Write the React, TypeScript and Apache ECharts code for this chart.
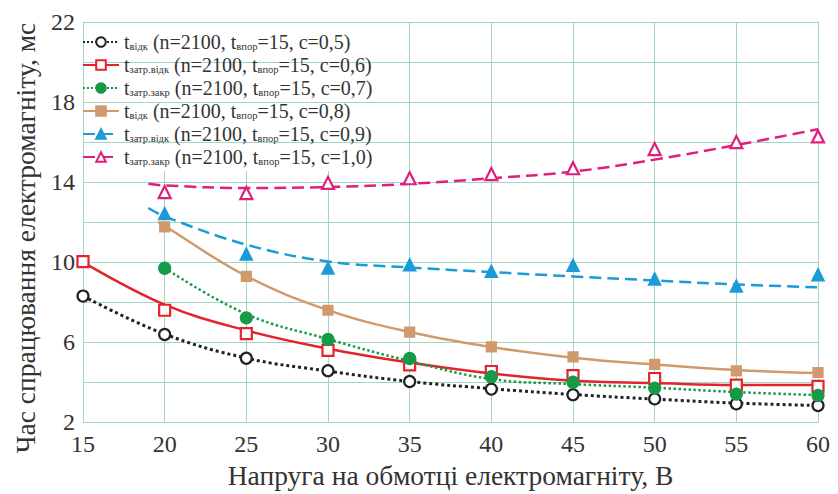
import React, { useEffect, useRef } from "react";
import * as echarts from "echarts";

// X values (voltage, V)
const xVals = [15, 20, 25, 30, 35, 40, 45, 50, 55, 60];
const xFrom20 = [20, 25, 30, 35, 40, 45, 50, 55, 60];

// Measured points
const blackPts = [8.3, 6.38, 5.19, 4.57, 4.03, 3.65, 3.37, 3.16, 2.91, 2.83];
const redPts = [10.02, 7.59, 6.42, 5.59, 4.86, 4.53, 4.32, 4.18, 3.85, 3.79];
const greenPts = [9.69, 7.21, 6.13, 5.18, 4.27, 3.99, 3.7, 3.4, 3.33];
const tanPts = [11.76, 9.28, 7.59, 6.5, 5.76, 5.26, 4.89, 4.56, 4.48];
const bluePts = [12.42, 10.39, 9.69, 9.86, 9.53, 9.83, 9.15, 8.79, 9.36];
const pinkPts = [13.5, 13.45, 13.96, 14.19, 14.4, 14.69, 15.65, 16.0, 16.28];

// Fitted (trend) curves
const blackFitX = [15, 20, 25, 30, 35, 40, 45, 50, 55, 60];
const blackFit = [8.3, 6.4, 5.2, 4.55, 4.03, 3.67, 3.38, 3.15, 2.95, 2.83];
const redFitX = [15, 20, 25, 30, 35, 40, 45, 50, 55, 60];
const redFit = [10.0, 7.87, 6.58, 5.67, 4.98, 4.43, 4.07, 3.95, 3.85, 3.85];
const greenFitX = [20, 25, 30, 35, 40, 45, 50, 55, 60];
const greenFit = [9.7, 7.4, 6.15, 5.05, 4.15, 3.9, 3.72, 3.5, 3.35];
const tanFitX = [19.6, 20, 25, 30, 35, 40, 45, 50, 55, 60];
const tanFit = [12.0, 11.8, 9.3, 7.6, 6.5, 5.75, 5.22, 4.88, 4.6, 4.45];
const blueFitX = [19, 20, 25, 30, 35, 40, 45, 50, 55, 60];
const blueFit = [12.7, 12.28, 10.87, 10.03, 9.73, 9.5, 9.28, 9.08, 8.88, 8.74];
const pinkFitX = [19, 20, 25, 30, 35, 40, 45, 50, 55, 60];
const pinkFit = [13.91, 13.83, 13.7, 13.75, 13.91, 14.19, 14.52, 15.12, 15.85, 16.64];

// Legend texts
const subA = ["відк", "затр.відк", "затр.закр", "відк", "затр.відк", "затр.закр"];
const cVals = ["0,5", "0,6", "0,7", "0,8", "0,9", "1,0"];

const yTickLabels = [2, 6, 10, 14, 18, 22];

const FONT = "Liberation Serif";
const GRID = "#a3d6c2";
const TXT = "#333333";

const zip = (xs: number[], ys: number[]) => ys.map((y, i) => [xs[i], y]);

export default function App() {
  const ref = useRef<HTMLDivElement>(null);
  useEffect(() => {
    document.body.style.margin = "0";
    if (!ref.current) return;
    const chart = echarts.init(ref.current, null, { renderer: "svg" });

    const names = subA.map((s, i) => `t_${s} (n=2100, t_впор=15, c=${cVals[i]})`);
    const richNames: Record<string, string> = {};
    names.forEach((n, i) => {
      richNames[n] = `{t|t}{s|${subA[i]}}{t| (n=2100, t}{s|впор}{t|=15, c=${cVals[i]})}`;
    });

    const defs = [
      { color: "#222222", type: "dotted", width: 3, symbol: "circle", fill: "#ffffff", fitX: blackFitX, fit: blackFit, px: xVals, pts: blackPts, size: 11 },
      { color: "#e3242b", type: "solid", width: 2.5, symbol: "rect", fill: "#ffffff", fitX: redFitX, fit: redFit, px: xVals, pts: redPts, size: 11 },
      { color: "#169a47", type: "dotted", width: 2.5, symbol: "circle", fill: "#169a47", fitX: greenFitX, fit: greenFit, px: xFrom20, pts: greenPts, size: 11 },
      { color: "#d09a6c", type: "solid", width: 2.5, symbol: "rect", fill: "#d09a6c", fitX: tanFitX, fit: tanFit, px: xFrom20, pts: tanPts, size: 9 },
      { color: "#1b9bd7", type: [12, 6], width: 2.5, symbol: "triangle", fill: "#1b9bd7", fitX: blueFitX, fit: blueFit, px: xFrom20, pts: bluePts, size: 11 },
      { color: "#e01e7e", type: [12, 6], width: 2.5, symbol: "triangle", fill: "#ffffff", fitX: pinkFitX, fit: pinkFit, px: xFrom20, pts: pinkPts, size: 12 },
    ];

    const series: any[] = [];
    defs.forEach((d, i) => {
      series.push({
        name: names[i],
        type: "line",
        smooth: 0.4,
        showSymbol: false,
        symbol: d.symbol,
        symbolSize: d.size,
        z: 3,
        data: zip(d.fitX, d.fit),
        lineStyle: { color: d.color, width: d.width, type: d.type },
        itemStyle: { color: d.fill, borderColor: d.color, borderWidth: 2.2 },
      });
      series.push({
        name: names[i] + " ",
        type: "scatter",
        symbol: d.symbol,
        symbolSize: d.size,
        z: 4,
        data: zip(d.px, d.pts),
        itemStyle: { color: d.fill, borderColor: d.color, borderWidth: 2.2, opacity: 1 },
      });
    });

    chart.setOption({
      animation: false,
      backgroundColor: "#ffffff",
      grid: { left: 83, right: 20, top: 22, bottom: 69, containLabel: false },
      graphic: [
        {
          type: "rect",
          z: 1,
          silent: true,
          shape: { x: 84, y: 23, width: 316, height: 148 },
          style: { fill: "#ffffff" },
        },
      ],
      legend: {
        data: names,
        orient: "vertical",
        left: 82,
        top: 32,
        itemWidth: 36,
        itemHeight: 12,
        itemGap: 3,
        padding: 0,
        z: 5,
        formatter: (n: string) => richNames[n] || n,
        textStyle: {
          color: TXT,
          fontFamily: FONT,
          rich: {
            t: { fontSize: 20, fontFamily: FONT, color: TXT, lineHeight: 20, verticalAlign: "middle" },
            s: { fontSize: 10.5, fontFamily: FONT, color: TXT, lineHeight: 20, verticalAlign: "bottom", padding: [7, 0, 0, 0] },
          },
        },
      },
      xAxis: {
        type: "value",
        min: 15,
        max: 60,
        interval: 5,
        z: 0,
        name: "Напруга на обмотці електромагніту, В",
        nameLocation: "middle",
        nameGap: 36,
        nameTextStyle: { fontFamily: FONT, fontSize: 27.5, color: TXT },
        axisLine: { show: true, lineStyle: { color: GRID, width: 1 } },
        axisTick: { show: false },
        axisLabel: { fontFamily: FONT, fontSize: 24, color: TXT, margin: 10 },
        splitLine: { show: true, lineStyle: { color: GRID, width: 1 } },
      },
      yAxis: {
        type: "value",
        min: 2,
        max: 22,
        interval: 2,
        z: 2,
        name: "Час спрацювання електромагніту, мс",
        nameLocation: "middle",
        nameGap: 44,
        nameTextStyle: { fontFamily: FONT, fontSize: 27.5, color: TXT, padding: [0, 32, 0, 0] },
        axisLine: { show: true, lineStyle: { color: GRID, width: 1 } },
        axisTick: { show: false },
        axisLabel: {
          fontFamily: FONT,
          fontSize: 24,
          color: TXT,
          margin: 8,
          formatter: (v: number) => (yTickLabels.indexOf(v) >= 0 ? String(v) : ""),
        },
        splitLine: { show: true, lineStyle: { color: GRID, width: 1 } },
      },
      series,
    });
    return () => chart.dispose();
  }, []);
  return <div ref={ref} style={{ width: 838, height: 494 }} />;
}
